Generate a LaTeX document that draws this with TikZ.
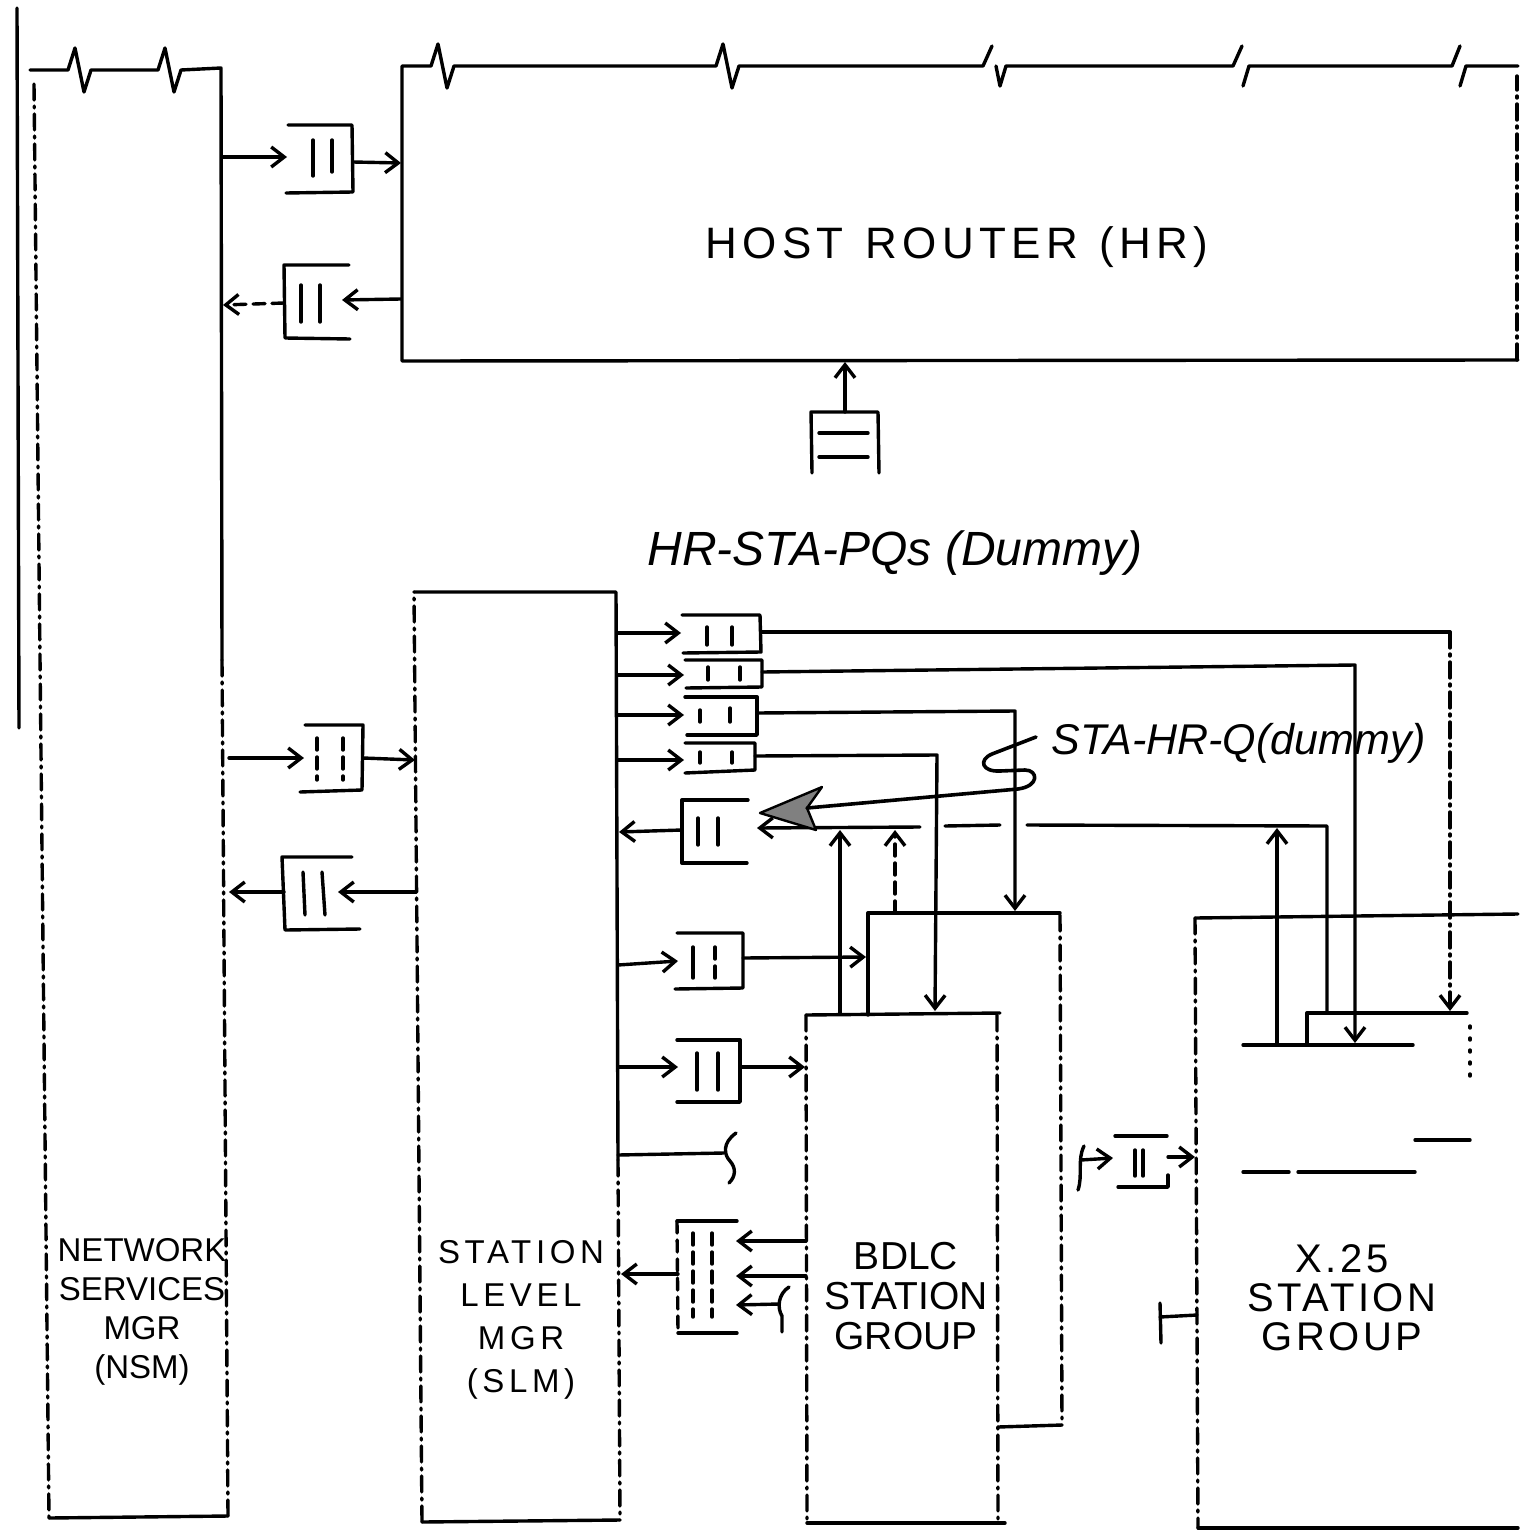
\documentclass[tikz,border=0pt]{standalone}
\usepackage{fontspec}
\setmainfont{Liberation Sans}
\usetikzlibrary{arrows.meta}
\begin{document}
\begin{tikzpicture}[x=1pt,y=-1pt,line width=3.4pt,line cap=round,line join=round,
  dd/.style={dash pattern=on 16pt off 6pt on 2pt off 6pt},
  dsh/.style={dash pattern=on 12pt off 7pt},
  dt/.style={dash pattern=on 2pt off 10pt},
  arr/.style={-{Straight Barb[length=13pt,width=20pt]}},
  zz/.style={insert path={-- ++(7,-22) -- ++(9,44) -- ++(7,-22)}},
  lab/.style={align=center,inner sep=0pt,text=black}]
\useasboundingbox (0,0) rectangle (1520,1533);
\fill[white] (0,0) rectangle (1520,1533);

% ---------- left scan edge
\draw (17,8) -- (19,728);

% ---------- NSM box
\draw (30,70) -- (68,70) [zz] -- (158,70) [zz] -- (221,68) -- (222,660);
\draw[dd] (222,660) -- (228,1516);
\draw (228,1516) -- (49,1518);
\draw[dd] (34,84) -- (49,1518);
\node[lab,font=\fontsize{33}{39}\selectfont] (nsmlabel) at (142,1312) {NETWORK\\SERVICES\\MGR\\(NSM)};

% ---------- Host router box
\draw (1518,360) -- (402,361) -- (402,66) -- (431,66) [zz] -- (716,66) [zz] -- (983,66) -- (992,46);
\draw (996,66) -- (1000,86) -- (1006,66) -- (1233,66) -- (1242,46);
\draw (1243,86) -- (1249,66) -- (1452,66) -- (1460,46);
\draw (1460,86) -- (1466,66) -- (1518,66);
\draw[dd] (1517,360) -- (1517,76);
\node[lab,font=\fontsize{44}{50}\selectfont\addfontfeatures{LetterSpace=12}] (hrlabel) at (957,247) {HOST\hspace{22pt}ROUTER\hspace{22pt}(HR)};

% ---------- queue NSM -> HR
\draw (288,125) -- (352,125) -- (353,192) -- (286,193);
\draw (313,140) -- (313,176); \draw (332,140) -- (332,172);
\coordinate (nsmA) at (222,157); \coordinate (q1in) at (287,157);
\coordinate (q1out) at (353,162); \coordinate (hrA) at (401,163);
\draw[arr] (nsmA) -- (q1in);
\draw[arr] (q1out) -- (hrA);

% ---------- queue HR -> NSM
\draw (349,265) -- (284,265) -- (285,338) -- (350,339);
\draw (301,285) -- (301,322); \draw (320,285) -- (320,322);
\coordinate (hrB) at (401,299); \coordinate (q2in) at (342,300);
\coordinate (q2out) at (284,303); \coordinate (nsmB) at (223,305);
\draw[arr] (hrB) -- (q2in);
\draw[arr,dsh] (q2out) -- (nsmB);

% ---------- HR-STA-PQs queue
\draw (812,473) -- (811,412) -- (878,412) -- (879,473);
\draw (819,433) -- (868,433); \draw (819,457) -- (868,457);
\coordinate (q3top) at (845,412); \coordinate (hrC) at (845,362);
\draw[arr] (q3top) -- (hrC);
\node[lab,font=\fontsize{48}{52}\selectfont\itshape] (pqlabel) at (895,553) {HR-STA-PQs (Dummy)};

% ---------- SLM box
\draw (414,592) -- (616,592) -- (618,1160);
\draw[dd] (618,1160) -- (620,1520);
\draw (620,1520) -- (422,1522);
\draw[dd] (422,1522) -- (414,592);
\node[lab,font=\fontsize{33}{43}\selectfont\addfontfeatures{LetterSpace=14}] (slmlabel) at (521,1320) {STATION\\LEVEL\\MGR\\(SLM)};

% ---------- queue NSM -> SLM
\draw (305,725) -- (363,725) -- (362,790) -- (300,792);
\draw[dsh] (317,738) -- (317,780); \draw[dsh] (343,738) -- (343,780);
\coordinate (nsmC) at (229,758); \coordinate (q4in) at (304,758);
\coordinate (q4out) at (363,758); \coordinate (slmA) at (415,760);
\draw[arr] (nsmC) -- (q4in);
\draw[arr] (q4out) -- (slmA);

% ---------- queue SLM -> NSM
\draw (352,857) -- (282,857) -- (285,930) -- (360,929);
\draw (303,872) -- (305,915); \draw (322,872) -- (325,915);
\coordinate (slmB) at (416,892); \coordinate (q5in) at (338,892);
\coordinate (q5out) at (284,892); \coordinate (nsmD) at (229,892);
\draw[arr] (slmB) -- (q5in);
\draw[arr] (q5out) -- (nsmD);

% ---------- stacked queues SLM -> stations
\draw (682,615) -- (760,615) -- (761,652) -- (683,653);
\draw (707,627) -- (707,645); \draw (732,627) -- (732,645);
\draw (685,660) -- (762,660) -- (762,687) -- (686,688);
\draw (708,667) -- (708,680); \draw (740,667) -- (740,680);
\draw (685,697) -- (757,697) -- (757,735) -- (687,735);
\draw (700,710) -- (700,722); \draw (730,708) -- (730,722);
\draw (685,743) -- (755,743) -- (755,770) -- (685,773);
\draw (700,752) -- (700,763); \draw (732,752) -- (732,763);

\coordinate (slmQa) at (617,633); \coordinate (qaIn) at (681,633);
\coordinate (slmQb) at (617,675); \coordinate (qbIn) at (684,675);
\coordinate (slmQc) at (617,715); \coordinate (qcIn) at (684,715);
\coordinate (slmQd) at (617,760); \coordinate (qdIn) at (684,760);
\draw[arr] (slmQa) -- (qaIn);
\draw[arr] (slmQb) -- (qbIn);
\draw[arr] (slmQc) -- (qcIn);
\draw[arr] (slmQd) -- (qdIn);

\coordinate (qaOut) at (761,632); \coordinate (qaCorner) at (1450,632); \coordinate (x25a) at (1450,1011);
\draw (qaOut) -- (qaCorner);
\draw[dd,arr] (qaCorner) -- (x25a);
\coordinate (qbOut) at (762,672); \coordinate (qbCorner) at (1355,665); \coordinate (x25b) at (1355,1043);
\draw[arr] (qbOut) -- (qbCorner) -- (x25b);
\coordinate (qcOut) at (757,713); \coordinate (qcCorner) at (1015,711); \coordinate (bdlcBackTop) at (1015,911);
\draw[arr] (qcOut) -- (qcCorner) -- (bdlcBackTop);
\coordinate (qdOut) at (755,756); \coordinate (qdCorner) at (937,755); \coordinate (bdlcFrontTop) at (935,1011);
\draw[arr] (qdOut) -- (qdCorner) -- (bdlcFrontTop);

% ---------- STA-HR-Q queue (stations -> SLM)
\draw (748,800) -- (682,800) -- (682,863) -- (747,863);
\draw (698,818) -- (698,845); \draw (718,818) -- (718,845);
\coordinate (q6out) at (682,830); \coordinate (slmC) at (619,832);
\draw[arr] (q6out) -- (slmC);
\coordinate (q6in) at (757,828); \coordinate (busA) at (920,827);
\draw[arr] (busA) -- (q6in);
\draw (945,826) -- (1000,825);
\coordinate (busB) at (1027,825); \coordinate (busC) at (1327,826); \coordinate (x25sm) at (1327,1013);
\draw (busB) -- (busC) -- (x25sm);
\coordinate (bdlcUp1) at (840,1013); \coordinate (busU1) at (840,830);
\draw[arr] (bdlcUp1) -- (busU1);
\coordinate (bdlcUp2) at (895,913); \coordinate (busU2) at (895,830);
\draw[arr,dsh] (bdlcUp2) -- (busU2);
\coordinate (x25Up) at (1277,1045); \coordinate (busU3) at (1277,828);
\draw[arr] (x25Up) -- (busU3);

% big pointer and label
\node[lab,font=\fontsize{43}{46}\selectfont\itshape,anchor=west] (hrqlabel) at (1050,743) {STA-HR-Q(dummy)};
\coordinate (ptrTip) at (760,813);
\filldraw[line width=2.4pt,fill=black!50,draw=black] (ptrTip) -- (822,787) -- (807,808) -- (816,830) -- cycle;
\draw[line width=3.6pt] (807,808) -- (1018,789) .. controls (1040,786) and (1038,770) .. (1025,770)
  -- (1000,771) .. controls (982,772) and (978,760) .. (992,754) -- (1036,737);

% ---------- queues SLM -> BDLC
\draw (677,933) -- (743,933) -- (743,988) -- (675,989);
\draw (693,947) -- (693,978); \draw[dsh] (715,947) -- (715,978);
\coordinate (slmD) at (618,965); \coordinate (qeIn) at (678,961);
\coordinate (qeOut) at (743,958); \coordinate (bdlcBackL) at (866,957);
\draw[arr] (slmD) -- (qeIn);
\draw[arr] (qeOut) -- (bdlcBackL);

\draw (677,1040) -- (740,1040) -- (740,1102) -- (677,1102);
\draw (697,1053) -- (697,1090); \draw (718,1053) -- (718,1090);
\coordinate (slmE) at (618,1067); \coordinate (qfIn) at (678,1067);
\coordinate (qfOut) at (740,1067); \coordinate (bdlcFrontL) at (805,1067);
\draw[arr] (slmE) -- (qfIn);
\draw[arr] (qfOut) -- (bdlcFrontL);

\coordinate (slmF) at (618,1155); \coordinate (openEnd) at (724,1153);
\draw (slmF) -- (openEnd);
\draw (736,1133) .. controls (722,1143) and (724,1155) .. (730,1161) .. controls (736,1168) and (736,1176) .. (729,1183);

% ---------- queue BDLC -> SLM
\draw (737,1221) -- (677,1221);
\draw[dsh] (677,1221) -- (678,1332);
\draw (678,1333) -- (737,1333);
\draw[dsh] (693,1233) -- (693,1317); \draw[dsh] (712,1233) -- (712,1317);
\coordinate (bdlcL1) at (806,1241); \coordinate (q7in1) at (736,1241);
\coordinate (bdlcL2) at (806,1276); \coordinate (q7in2) at (736,1276);
\coordinate (sq7) at (779,1304); \coordinate (q7in3) at (736,1305);
\draw[arr] (bdlcL1) -- (q7in1);
\draw[arr] (bdlcL2) -- (q7in2);
\draw[arr] (sq7) -- (q7in3);
\draw (789,1287) .. controls (778,1294) and (777,1308) .. (782,1316) -- (782,1332);
\coordinate (q7out) at (678,1274); \coordinate (slmG) at (621,1274);
\draw[arr] (q7out) -- (slmG);

% ---------- BDLC station group
\draw (868,1015) -- (868,913) -- (1060,913);
\draw[dd] (1060,915) -- (1062,1425);
\draw (1062,1425) -- (998,1427);
\draw (806,1015) -- (1000,1013);
\draw[dd] (806,1015) -- (807,1523);
\draw[dd] (997,1015) -- (998,1523);
\draw (807,1523) -- (1005,1523);
\node[lab,font=\fontsize{39}{40}\selectfont] (bdlclabel) at (906,1296) {BDLC\\STATION\\GROUP};

% ---------- X.25 station group
\draw (1195,918) -- (1518,914);
\draw[dd] (1195,918) -- (1198,1528);
\draw (1198,1528) -- (1518,1528);
\draw (1243,1045) -- (1413,1045);
\draw (1307,1045) -- (1307,1013) -- (1467,1013);
\draw (1243,1172) -- (1289,1172); \draw (1298,1172) -- (1415,1172);
\draw (1415,1140) -- (1470,1140);
\draw[dt] (1470,1026) -- (1470,1080);
\node[lab,font=\fontsize{40}{39}\selectfont\addfontfeatures{LetterSpace=9}] (x25label) at (1342,1298) {X.25\\STATION\\GROUP};

% ---------- queue BDLC -> X.25
\draw (1115,1136) -- (1167,1136);
\draw (1118,1187) -- (1168,1187) -- (1168,1175);
\draw (1135,1150) -- (1135,1176); \draw (1143,1150) -- (1143,1176);
\draw (1084,1146) .. controls (1077,1160) and (1083,1175) .. (1078,1190);
\coordinate (sq8) at (1081,1160); \coordinate (q8in) at (1113,1158);
\coordinate (q8out) at (1168,1157); \coordinate (x25L) at (1195,1157);
\draw[arr] (sq8) -- (q8in);
\draw[arr] (q8out) -- (x25L);
\coordinate (x25L2) at (1197,1315); \coordinate (gTop) at (1160,1303);
\draw (1161,1343) -- (gTop);
\draw (1160,1317) -- (x25L2);
\end{tikzpicture}
\end{document}
